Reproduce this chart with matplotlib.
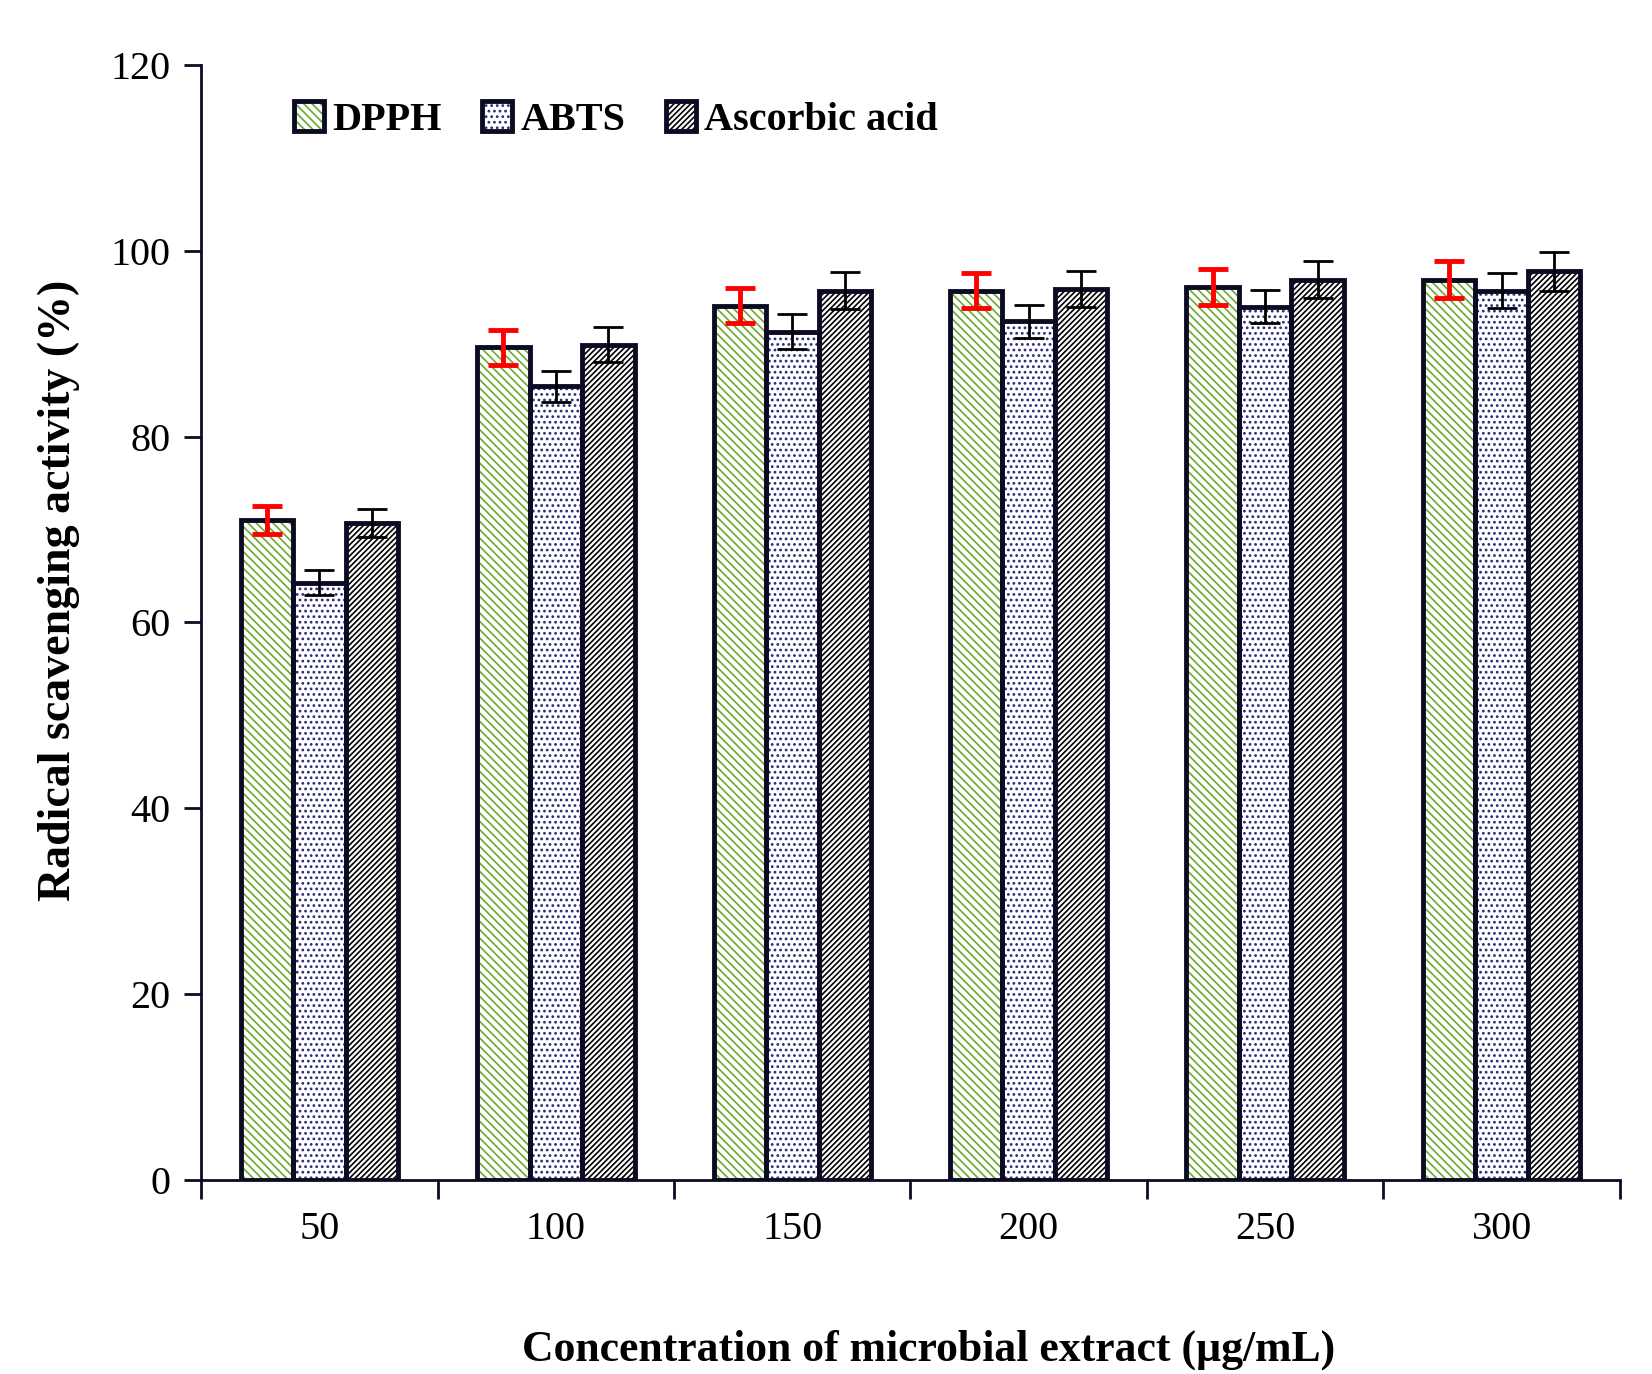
import numpy as np
import matplotlib.pyplot as plt

conc = ['50', '100', '150', '200', '250', '300']
dpph = [71.0, 89.6, 94.1, 95.7, 96.1, 96.9]
abts = [64.3, 85.4, 91.3, 92.4, 94.0, 95.7]
ascorbic = [70.7, 89.9, 95.7, 95.9, 96.9, 97.8]
dpph_err = [1.5, 1.9, 1.9, 1.9, 1.9, 2.0]
abts_err = [1.3, 1.7, 1.9, 1.8, 1.8, 1.9]
ascorbic_err = [1.5, 1.9, 2.0, 1.9, 2.0, 2.1]

plt.rcParams['font.family'] = ['Liberation Serif', 'DejaVu Serif']
plt.rcParams['hatch.linewidth'] = 1.2

navy = '#0b0b24'
fig = plt.figure(figsize=(16.52, 13.74), dpi=100)
ax = fig.add_axes([0.1217, 0.1412, 0.8589, 0.8115])

x = np.arange(len(conc))
w = 0.222
series = [
    (dpph, dpph_err, 'DPPH', '\\\\\\\\', '#6aaa2a', 'red', 3.5),
    (abts, abts_err, 'ABTS', '...', '#2a2a7a', 'black', 2),
    (ascorbic, ascorbic_err, 'Ascorbic acid', '//////', 'black', 'black', 2),
]
handles = []
for i, (vals, err, name, hatch, hcol, ecol, elw) in enumerate(series):
    pos = x + (i - 1) * w
    ax.bar(pos, vals, w, color='white', edgecolor=hcol, hatch=hatch, linewidth=0, zorder=2)
    ax.bar(pos, vals, w, color='none', edgecolor=navy, linewidth=3.5, zorder=3)
    ax.errorbar(pos, vals, yerr=err, fmt='none', ecolor=ecol, elinewidth=elw,
                capsize=11, capthick=elw, zorder=4)
    h = plt.Rectangle((0, 0), 1, 1, facecolor='white', edgecolor=hcol, hatch=hatch, linewidth=0)
    h2 = plt.Rectangle((0, 0), 1, 1, facecolor='none', edgecolor=navy, linewidth=3.5)
    handles.append((h, h2))

ax.set_xlim(-0.5, 5.5)
ax.set_ylim(0, 120)
ax.set_yticks(range(0, 121, 20))
ax.set_xticks(np.arange(-0.5, 5.6, 1))
ax.set_xticklabels([])
ax.set_xticks(x, minor=True)
ax.set_xticklabels(conc, minor=True)
ax.tick_params(axis='x', which='major', direction='out', length=14, width=2, color=navy)
ax.tick_params(axis='x', which='minor', length=0, pad=22, labelsize=29)
ax.tick_params(axis='y', direction='out', length=12, width=2, color=navy, labelsize=29, pad=10)

for s in ['top', 'right']:
    ax.spines[s].set_visible(False)
for s in ['left', 'bottom']:
    ax.spines[s].set_color(navy)
    ax.spines[s].set_linewidth(2)

ax.set_xlabel('Concentration of microbial extract (µg/mL)', fontsize=31.5, fontweight='bold', va='center')
ax.xaxis.set_label_coords(0.513, -0.152)
ax.set_ylabel('Radical scavenging activity (%)', fontsize=33, fontweight='bold', va='center')
ax.yaxis.set_label_coords(-0.10, 0.529)

ax.legend(handles, [s[2] for s in series], loc='upper left', bbox_to_anchor=(0.04, 1.0),
          ncol=3, frameon=False, prop={'size': 29, 'weight': 'bold'},
          handlelength=0.75, handleheight=0.75, handletextpad=0.2, columnspacing=1.0)

plt.savefig('out.png', dpi=100)
